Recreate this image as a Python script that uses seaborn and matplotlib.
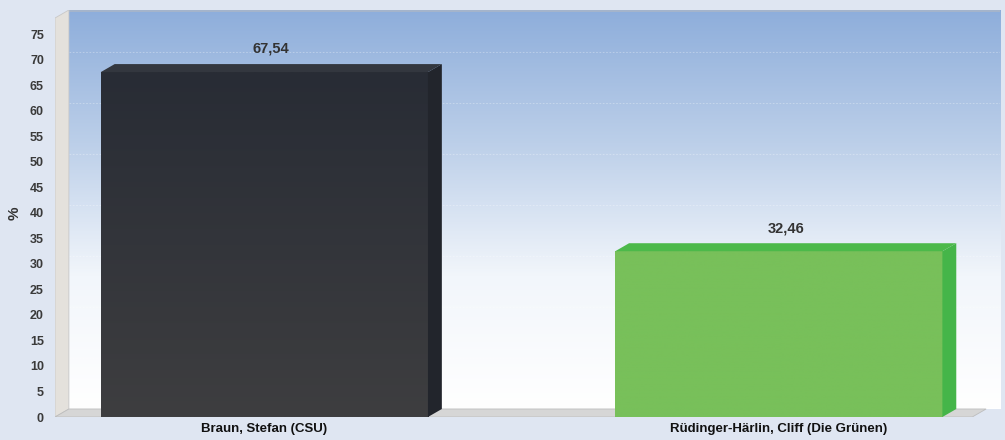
import numpy as np
import pandas as pd
import matplotlib
matplotlib.use("Agg")
import matplotlib.pyplot as plt
from matplotlib.patches import Polygon
from matplotlib.colors import LinearSegmentedColormap
import seaborn as sns

candidates = ["Braun, Stefan (CSU)", "Rüdinger-Härlin, Cliff (Die Grünen)"]
percent = [67.54, 32.46]
value_labels = ["67,54", "32,46"]
front_top = ["#282c35", "#78c05a"]
front_bottom = ["#3e3e40", "#78c05a"]
side_colors = ["#22252c", "#45b549"]
top_colors = ["#33373f", "#4cb94a"]
yticks = list(range(0, 80, 5))

df = pd.DataFrame({"candidate": candidates, "percent": percent})

sns.set_style("white")
plt.rcParams["font.family"] = ["Liberation Sans", "DejaVu Sans"]

fig = plt.figure(figsize=(10.05, 4.40), dpi=100)
fig.patch.set_facecolor("#dfe6f2")
ax = fig.add_axes([55 / 1005, 23 / 440, 945 / 1005, 407 / 440])
ax.set_facecolor("none")

ax = sns.barplot(data=df, x="candidate", y="percent", hue="candidate",
                 palette=front_top, width=0.636, legend=False, ax=ax,
                 saturation=1, zorder=3)

xl, xr = -0.407, 1.43
ymax = 79.7
dx, dy = 0.027, 1.57
ax.set_xlim(xl, xr)
ax.set_ylim(0, ymax)

# back wall gradient
wall = LinearSegmentedColormap.from_list("wall", ["#ffffff", "#f2f6fb", "#bccfe9", "#8eaedb"])
grad = np.linspace(0, 1, 256).reshape(-1, 1)
ax.imshow(grad, cmap=wall, origin="lower", aspect="auto",
          extent=[xl + dx, xr, dy, ymax], zorder=0)
ax.plot([xl + dx, xr], [ymax - 0.2, ymax - 0.2], color="#a9b6c8", lw=1.2, zorder=1)
for v in range(10, 80, 10):
    ax.plot([xl + dx, xr], [v + dy, v + dy], color="white", lw=0.6, alpha=0.35,
            ls=(0, (2, 2)), zorder=1)
# left side wall
ax.add_patch(Polygon([(xl, 0), (xl + dx, dy), (xl + dx, ymax), (xl, ymax - dy)],
                     closed=True, facecolor="#e4e1dc", edgecolor="#c8c8c8", lw=0.6, zorder=1))
# floor
ax.add_patch(Polygon([(xl, 0), (xr - 2 * dx, 0), (xr - dx, dy), (xl + dx, dy)],
                     closed=True, facecolor="#d6d6d6", edgecolor="#bdbdbd", lw=0.6, zorder=2))

# 3d faces for bars
for i, bar in enumerate(ax.patches[:len(percent)]):
    x0 = bar.get_x()
    w = bar.get_width()
    h = bar.get_height()
    bar.set_edgecolor("none")
    cmap = LinearSegmentedColormap.from_list("b%d" % i, [front_bottom[i], front_top[i]])
    im = ax.imshow(grad, cmap=cmap, origin="lower", aspect="auto",
                   extent=[x0, x0 + w, 0, h], zorder=4)
    im.set_clip_path(bar)
    ax.add_patch(Polygon([(x0 + w, 0), (x0 + w + dx, dy), (x0 + w + dx, h + dy), (x0 + w, h)],
                         closed=True, facecolor=side_colors[i], edgecolor="none", zorder=4))
    ax.add_patch(Polygon([(x0, h), (x0 + dx, h + dy), (x0 + w + dx, h + dy), (x0 + w, h)],
                         closed=True, facecolor=top_colors[i], edgecolor="none", zorder=4))
    ax.text(x0 + w / 2 + dx / 2, h + dy + 1.6, value_labels[i], ha="center", va="bottom",
            fontsize=10.5, fontweight="bold", color="#333333", zorder=5)

ax.set_yticks(yticks)
ax.set_yticklabels([str(t) for t in yticks], fontsize=9, color="#3a3a3a", fontweight="bold")
ax.tick_params(axis="y", length=3, color="#777777", pad=5)
ax.tick_params(axis="x", length=0, pad=4)
for lab in ax.get_xticklabels():
    lab.set_fontsize(9.5)
    lab.set_fontweight("bold")
    lab.set_color("#111111")
ax.set_xlabel("")
ax.set_ylabel("%", fontsize=11, fontweight="bold", color="#333333", labelpad=6)
for s in ax.spines.values():
    s.set_visible(False)

fig.savefig("out.png", dpi=100, facecolor=fig.get_facecolor())
